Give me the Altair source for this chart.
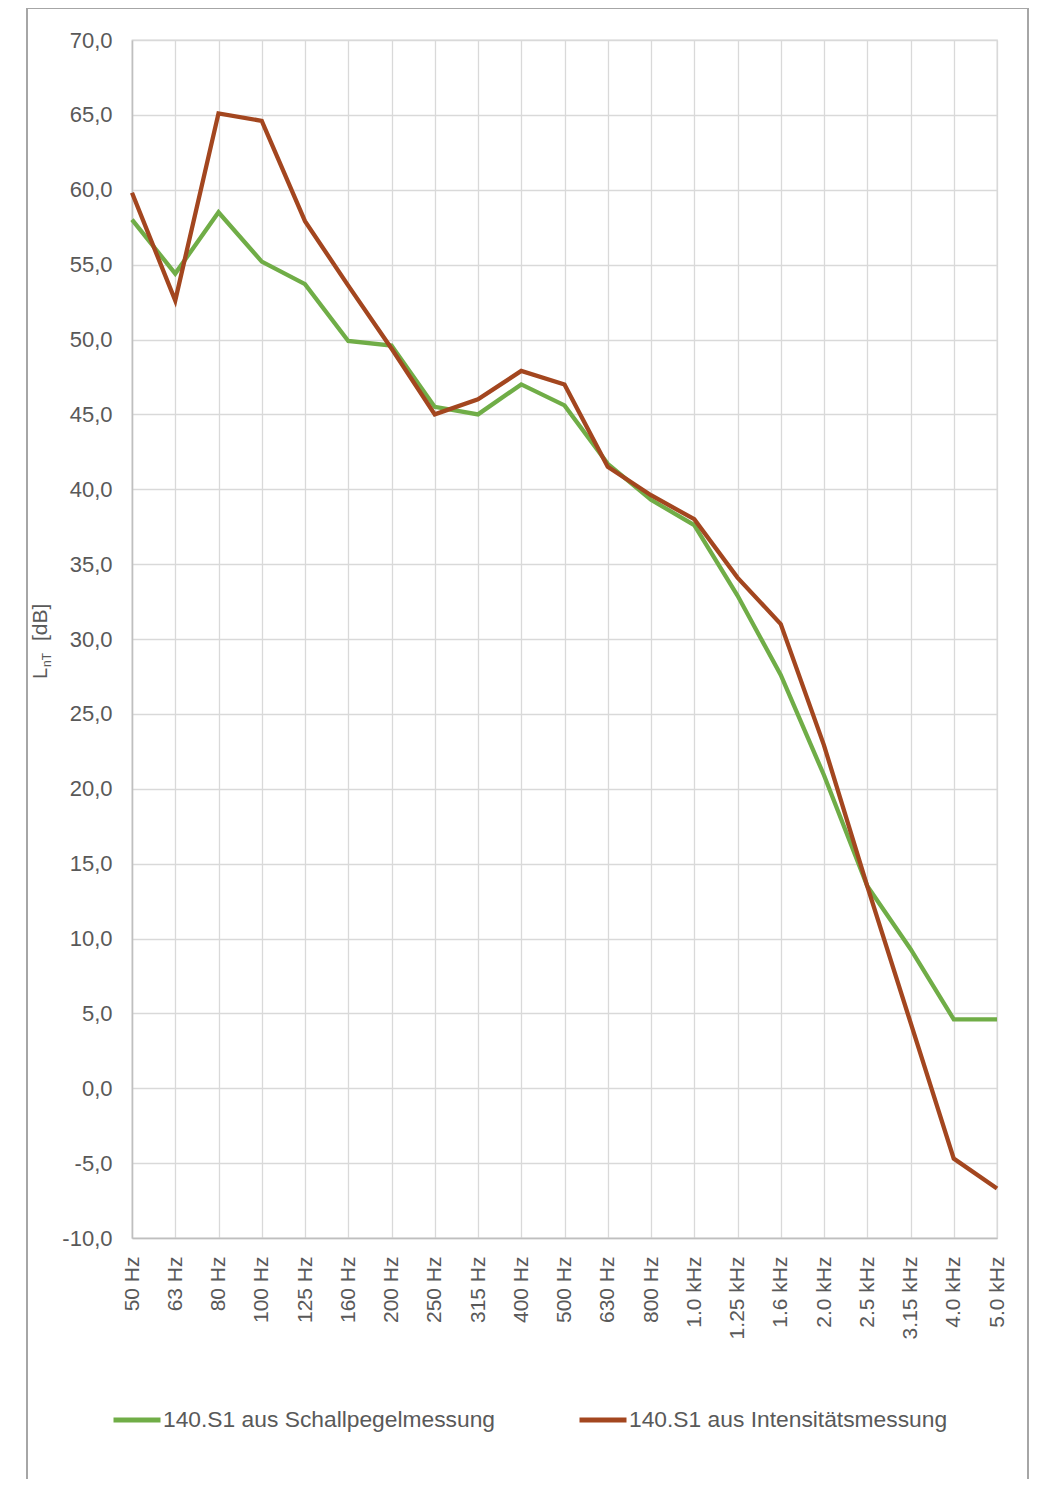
import altair as alt
import pandas as pd

freqs = ["50 Hz", "63 Hz", "80 Hz", "100 Hz", "125 Hz", "160 Hz", "200 Hz",
         "250 Hz", "315 Hz", "400 Hz", "500 Hz", "630 Hz", "800 Hz",
         "1.0 kHz", "1.25 kHz", "1.6 kHz", "2.0 kHz", "2.5 kHz", "3.15 kHz",
         "4.0 kHz", "5.0 kHz"]
schall = [58.0, 54.4, 58.5, 55.2, 53.7, 49.9, 49.6, 45.5, 45.0, 47.0, 45.6,
          41.7, 39.3, 37.6, 32.9, 27.6, 20.9, 13.5, 9.3, 4.6, 4.6]
intens = [59.8, 52.6, 65.1, 64.6, 57.9, 53.6, 49.4, 45.0, 46.0, 47.9, 47.0,
          41.5, 39.6, 38.0, 34.1, 31.0, 22.9, 13.5, 4.4, -4.7, -6.7]
series_names = ["140.S1 aus Schallpegelmessung", "140.S1 aus Intensitätsmessung"]
colors = ["#70ad47", "#a3461f"]
y_ticks = list(range(-10, 75, 5))

FONT = "Liberation Sans"
TXT = "#595959"
W, H = 865, 1198

df = pd.DataFrame({
    "freq": freqs * 2,
    "value": schall + intens,
    "series": [series_names[0]] * len(freqs) + [series_names[1]] * len(freqs),
})

x_enc = alt.X(
    "freq:N", sort=freqs, title=None,
    scale=alt.Scale(type="point", padding=0),
    axis=alt.Axis(labelAngle=270, labelPadding=18, ticks=False,
                  labelFontSize=21, labelColor=TXT, labelFont=FONT,
                  domainColor="#bfbfbf", domainWidth=1.5,
                  gridColor="#d9d9d9", gridWidth=1.3, grid=True),
)
y_enc = alt.Y(
    "value:Q", title=None,
    scale=alt.Scale(domain=[-10, 70], nice=False, zero=False),
    axis=alt.Axis(values=y_ticks, ticks=False, labelPadding=20,
                  labelFontSize=22, labelColor=TXT, labelFont=FONT,
                  labelExpr="(datum.value < 0 ? '-' : '') + replace(format(abs(datum.value), '.1f'), '.', ',')",
                  domainColor="#bfbfbf", domainWidth=1.5,
                  gridColor="#d9d9d9", gridWidth=1.3, grid=True),
)
color_enc = alt.Color(
    "series:N", sort=series_names,
    scale=alt.Scale(domain=series_names, range=colors),
    legend=alt.Legend(title=None, orient="none", direction="horizontal",
                      legendX=-21, legendY=1354, symbolType="stroke",
                      symbolSize=2209, symbolStrokeWidth=5, labelOffset=0,
                      labelFontSize=22.8, labelColor=TXT, labelFont=FONT,
                      labelLimit=600, columnPadding=73),
)

base = alt.Chart(df)
green = base.transform_filter(alt.datum.series == series_names[0]).mark_line(
    strokeWidth=4.3).encode(x=x_enc, y=y_enc, color=color_enc)
red = base.transform_filter(alt.datum.series == series_names[1]).mark_line(
    strokeWidth=4.3).encode(x=x_enc, y=y_enc, color=color_enc)

one = pd.DataFrame({"k": [0]})
border = alt.Chart(one).mark_rect(filled=False, stroke="#a6a6a6", strokeWidth=2).encode(
    x=alt.value(-105), x2=alt.value(896), y=alt.value(-32), y2=alt.value(1500))

t_L = alt.Chart(pd.DataFrame({"t": ["L"]})).mark_text(
    angle=270, align="left", baseline="alphabetic", fontSize=20, font=FONT, color=TXT
).encode(text="t:N", x=alt.value(-85), y=alt.value(639))
t_sub = alt.Chart(pd.DataFrame({"t": ["nT"]})).mark_text(
    angle=270, align="left", baseline="alphabetic", fontSize=12, font=FONT, color=TXT
).encode(text="t:N", x=alt.value(-81), y=alt.value(627))
t_db = alt.Chart(pd.DataFrame({"t": ["[dB]"]})).mark_text(
    angle=270, align="left", baseline="alphabetic", fontSize=21, font=FONT, color=TXT
).encode(text="t:N", x=alt.value(-85), y=alt.value(601))

chart = alt.layer(border, green, red, t_L, t_sub, t_db).properties(
    width=W, height=H,
    autosize=alt.AutoSizeParams(type="none"),
    padding={"left": 124, "top": 32, "right": 33, "bottom": 241},
    background="white",
).configure_view(stroke="#d9d9d9", strokeWidth=1.3)

chart.save("out.html", embed_options={"renderer": "svg", "actions": False})
